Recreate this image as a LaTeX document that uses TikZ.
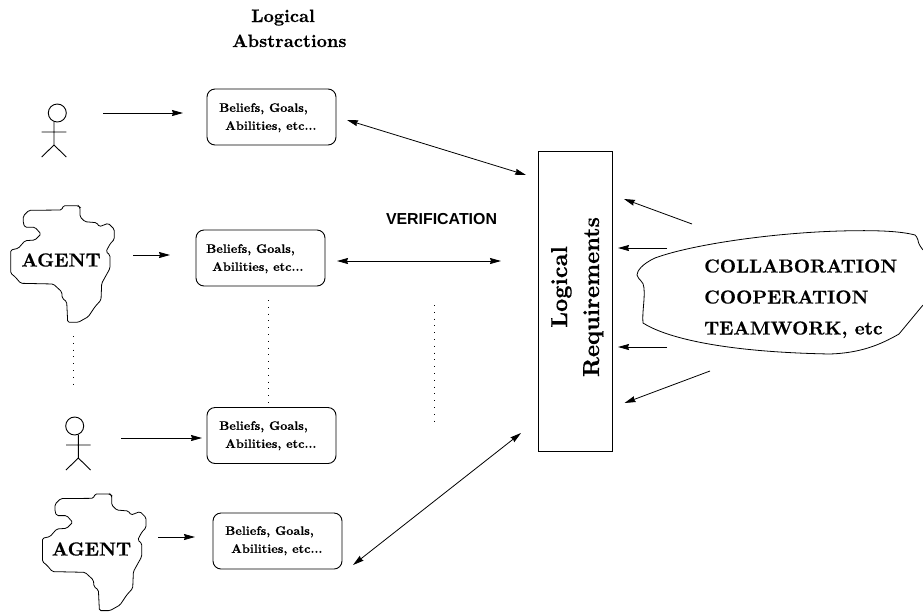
\documentclass[tikz,border=0pt]{standalone}
\usepackage{fontspec}
\usetikzlibrary{arrows.meta}
\setmainfont{lmroman10-regular.otf}[BoldFont=lmroman10-bold.otf,BoldFeatures={FakeBold=0.4}]
\newfontfamily\helvb{Liberation Sans}[BoldFont={* Bold}]
\tikzset{
  conn/.style={line width=0.8pt,-{Stealth[length=11pt,width=6pt,inset=1pt]}},
  dconn/.style={line width=0.8pt,{Stealth[length=11pt,width=6pt,inset=1pt]}-{Stealth[length=11pt,width=6pt,inset=1pt]}},
  absbox/.style={draw,line width=0.9pt,rounded corners=8pt,minimum width=129pt,minimum height=56pt,inner sep=0pt},
  boxtext/.style={font=\fontsize{12.4pt}{18pt}\selectfont\bfseries,align=left,inner sep=0pt},
  blobline/.style={line width=0.8pt},
  dotline/.style={line width=0.9pt,dash pattern=on 1pt off 5.8pt},
  fig/.style={line width=0.9pt},
  title/.style={font=\fontsize{17.9pt}{25pt}\selectfont\bfseries,inner sep=0pt,align=left},
  agenttext/.style={font=\fontsize{18.9pt}{21pt}\selectfont\bfseries,inner sep=0pt},
  reqtext/.style={rotate=90,inner sep=0pt,font=\fontsize{23pt}{26pt}\selectfont\bfseries,anchor=base},
  cloudtext/.style={inner sep=0pt,anchor=base west,font=\fontsize{18.8pt}{31pt}\selectfont\bfseries},
}
\newcommand{\agentblob}[2]{%
 \draw[blobline,shift={(#1,#2)},rounded corners=1.5pt]
 (63.3,205.7)--(78.3,205.7)--(80,207.3)--(80,216.7)--(85,221.7)--(96.7,222.7)--(99.3,226.7)--(108.3,223.3)--(114.3,229.3)--(114.3,239.3)--(110,244)--(106,251.7)--(110,255)--(110,268.3)--(101.7,283.3)--(101,300)--(95,306.7)--(88.3,316.7)--(78.3,322.3)--(67.7,322.3)--(66.7,301.7)--(62.3,298.3)--(61.7,291.7)--(53.3,284)--(20.7,283.3)--(15,276.7)--(10.7,273.3)--(10.7,250)--(18.3,248.3)--(25,240.7)--(35,240)--(41,234)--(35,227.3)--(25,227.3)--(23.3,223.3)--(23.3,216)--(29,210.3)--(61.7,210)--cycle;}
% #1,#2 = body top, #3 = horizontal head offset
\newcommand{\stick}[3]{%
 \begin{scope}[shift={(#1,#2)},fig]
 \draw (#3,-10) circle (9pt);
 \draw (0,-1)--(0,22) (-12.3,9)--(12.3,9) (-12.3,34)--(0,22)--(12.3,34);
 \end{scope}}
\begin{document}
\begin{tikzpicture}[x=1pt,y=-1pt]
\useasboundingbox[fill=white] (0,0) rectangle (923,611);
% titles
\node[title,anchor=base west] (title1) at (251,22) {Logical};
\node[title,anchor=base west] (title2) at (232,47) {Abstractions};
% figures
\stick{54}{123}{3.3}
\stick{78.3}{436}{-3.6}
\agentblob{0}{0}
\agentblob{31.7}{288.3}
\node[agenttext,anchor=base] (agent1) at (61,266.5) {AGENT};
\node[agenttext,anchor=base] (agent2) at (91.5,555.5) {AGENT};
% boxes
\node[absbox] (b1) at (271.5,117) {};
\node[absbox] (b2) at (260.5,258) {};
\node[absbox] (b3) at (271.5,435.5) {};
\node[absbox] (b4) at (277.5,541) {};
\node[boxtext,anchor=north west] (t1) at (219,103) {Beliefs, Goals,\\\hspace*{6pt}Abilities, etc...};
\node[boxtext,anchor=north west] (t2) at (206,244) {Beliefs, Goals,\\\hspace*{6pt}Abilities, etc...};
\node[boxtext,anchor=north west] (t3) at (219,421) {Beliefs, Goals,\\\hspace*{6pt}Abilities, etc...};
\node[boxtext,anchor=north west] (t4) at (225,526) {Beliefs, Goals,\\\hspace*{6pt}Abilities, etc...};
% requirements
\node[draw,line width=0.9pt,minimum width=74pt,minimum height=300pt,inner sep=0pt] (req) at (575,301) {};
\node[reqtext] (reqa) at (567,287) {Logical};
\node[reqtext] (reqb) at (599,297) {Requirements};
% verification
\node[inner sep=0pt,font=\fontsize{15.9pt}{18pt}\selectfont\helvb\bfseries] (ver) at (441.5,219) {VERIFICATION};
% cloud
\draw[blobline] (923,250) .. controls (919,245) and (918,242) .. (918,240)
  .. controls (917,237) and (916,236) .. (915,235)
  .. controls (900,231) and (875,230) .. (840,231)
  .. controls (770,233) and (690,245) .. (655,258)
  .. controls (642,264) and (637,271) .. (637,275)
  .. controls (638,280) and (644,281) .. (644,288)
  .. controls (645,300) and (642,312) .. (643,323)
  .. controls (665,337) and (720,352) .. (830,354)
  .. controls (860,353) and (880,345) .. (899,334)
  -- (923,305);
\node[cloudtext] (cloud1) at (704,272.5) {COLLABORATION};
\node[cloudtext] (cloud2) at (704,303.5) {COOPERATION};
\node[cloudtext] (cloud3) at (704,334.5) {TEAMWORK, etc};
% arrow ends
\coordinate (a1) at (103,113);
\coordinate (a1e) at (183,113);
\coordinate (a2) at (133,255);
\coordinate (a2e) at (170,255);
\coordinate (a3) at (121,438);
\coordinate (a3e) at (202,438);
\coordinate (a4) at (158,537);
\coordinate (a4e) at (195,537);
\draw[conn] (a1)--(a1e);
\draw[conn] (a2)--(a2e);
\draw[conn] (a3)--(a3e);
\draw[conn] (a4)--(a4e);
\coordinate (v1a) at (347,120);
\coordinate (v1b) at (526,175);
\coordinate (v2a) at (337,261);
\coordinate (v2b) at (501,261);
\coordinate (v3a) at (353,565);
\coordinate (v3b) at (521,433);
\draw[dconn] (v1a)--(v1b);
\draw[dconn] (v2a)--(v2b);
\draw[dconn] (v3a)--(v3b);
\coordinate (c1) at (692,224);
\coordinate (c1e) at (624,199);
\coordinate (c2) at (667,248);
\coordinate (c2e) at (618,248);
\coordinate (c3) at (667,347);
\coordinate (c3e) at (618,347);
\coordinate (c4) at (710,371);
\coordinate (c4e) at (624.5,403);
\draw[conn] (c1)--(c1e);
\draw[conn] (c2)--(c2e);
\draw[conn] (c3)--(c3e);
\draw[conn] (c4)--(c4e);
% dotted
\coordinate (d1) at (73,336);
\coordinate (d1e) at (73,384);
\coordinate (d2) at (268,300);
\coordinate (d2e) at (268,407);
\coordinate (d3) at (434,305);
\coordinate (d3e) at (434,423);
\draw[dotline] (d1)--(d1e);
\draw[dotline] (d2)--(d2e);
\draw[dotline] (d3)--(d3e);
\end{tikzpicture}
\end{document}
